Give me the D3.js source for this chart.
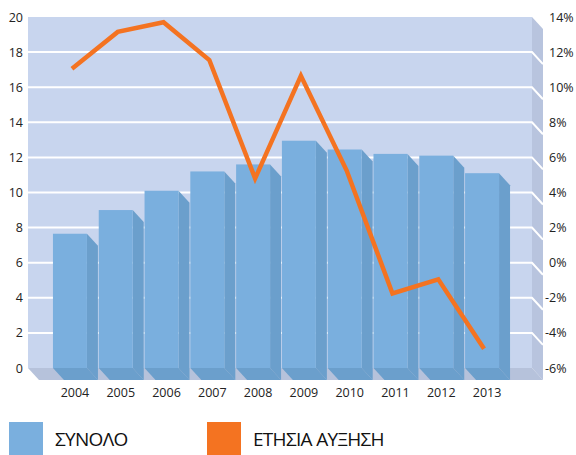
<!DOCTYPE html>
<html>
<head>
<meta charset="UTF-8" />
<title>Chart</title>
<style>
  body { margin: 0; background: #fff; }
  svg text { font-family: "Open Sans", "Noto Sans", sans-serif; fill: #222; }
  .axis path, .axis line { display: none; }
  .axis text { font-size: 12.5px; }
  .legend text { font-size: 19px; fill: #111; letter-spacing: -0.7px; }
</style>
<script src="https://d3js.org/d3.v7.min.js"></script>
</head>
<body>
<script>
var years = ["2004", "2005", "2006", "2007", "2008", "2009", "2010", "2011", "2012", "2013"];
var totals = [7.65, 9.0, 10.1, 11.2, 11.6, 12.95, 12.45, 12.2, 12.1, 11.1];
var growth = [11.05, 13.15, 13.7, 11.55, 4.8, 10.65, 5.25, -1.75, -0.95, -4.9];
var leftTicks = [0, 2, 4, 6, 8, 10, 12, 14, 16, 18, 20];
var rightTicks = [-6, -4, -2, 0, 2, 4, 6, 8, 10, 12, 14];
var legendNames = ["ΣΥΝΟΛΟ", "ΕΤΗΣΙΑ ΑΥΞΗΣΗ"];

var width = 576, height = 455;
var wallLeft = 28, wallRight = 532;
var dx = 11, dy = 12;   // depth offset of the 3d box

var svg = d3.select("body").append("svg")
    .attr("width", width)
    .attr("height", height);

var x = d3.scaleBand()
    .domain(years)
    .range([47, 505])
    .paddingInner(0.258)
    .paddingOuter(0.13);

var y = d3.scaleLinear().domain([0, 20]).range([368, 17]);
var y2 = d3.scaleLinear().domain([-6, 14]).range([368, 17]);

// back wall, side wall, floor
svg.append("rect")
    .attr("x", wallLeft).attr("y", y(20))
    .attr("width", wallRight - wallLeft).attr("height", y(0) - y(20))
    .attr("fill", "#c8d5ee");

svg.append("polygon")
    .attr("points", [[wallRight, y(20)], [wallRight + dx, y(20) + dy], [wallRight + dx, y(0) + dy], [wallRight, y(0)]].join(" "))
    .attr("fill", "#b8c4de");

svg.append("polygon")
    .attr("points", [[wallLeft, y(0)], [wallRight, y(0)], [wallRight + dx, y(0) + dy], [wallLeft + dx, y(0) + dy]].join(" "))
    .attr("fill", "#b6c2db");

// gridlines
svg.append("g").selectAll("polyline")
  .data(leftTicks.filter(function(d) { return d > 0 && d < 20; }))
  .enter().append("polyline")
    .attr("points", function(d) {
      return [[wallLeft, y(d)], [wallRight, y(d)], [wallRight + dx, y(d) + dy]].join(" ");
    })
    .attr("fill", "none")
    .attr("stroke", "#fff")
    .attr("stroke-width", 2);

// bars
var bars = svg.append("g").selectAll("g")
  .data(years)
  .enter().append("g");

bars.append("polygon")
    .attr("points", function(d, i) {
      var x0 = x(d), x1 = x(d) + x.bandwidth();
      return [[x0, y(0)], [x1, y(0)], [x1 + dx, y(0) + dy], [x0 + dx, y(0) + dy]].join(" ");
    })
    .attr("fill", "#6b9fcc");

bars.append("polygon")
    .attr("points", function(d, i) {
      var x1 = x(d) + x.bandwidth();
      return [[x1, y(totals[i])], [x1 + dx, y(totals[i]) + dy], [x1 + dx, y(0) + dy], [x1, y(0)]].join(" ");
    })
    .attr("fill", "#6b9fcc");

bars.append("rect")
    .attr("x", function(d) { return x(d); })
    .attr("y", function(d, i) { return y(totals[i]); })
    .attr("width", x.bandwidth())
    .attr("height", function(d, i) { return y(0) - y(totals[i]); })
    .attr("fill", "#7aafde");

// growth line
var line = d3.line()
    .x(function(d, i) { return x(years[i]) + x.bandwidth() / 2 + 2; })
    .y(function(d) { return y2(d); });

svg.append("path")
    .datum(growth)
    .attr("d", line)
    .attr("fill", "none")
    .attr("stroke", "#f47321")
    .attr("stroke-width", 4.5)
    .attr("stroke-linejoin", "miter");

// axes
svg.append("g")
    .attr("class", "axis")
    .attr("transform", "translate(23,0)")
    .call(d3.axisLeft(y).tickValues(leftTicks).tickSize(0).tickPadding(0));

var right = svg.append("g")
    .attr("class", "axis")
    .attr("transform", "translate(549,0)")
    .call(d3.axisRight(y2).tickValues(rightTicks).tickSize(0).tickPadding(0)
      .tickFormat(function(d) { return d + "%"; }));

right.selectAll("text")
    .attr("x", function(d) { return d < 0 ? -4 : 0; });

svg.append("g")
    .attr("class", "axis")
    .attr("transform", "translate(0,388)")
    .call(d3.axisBottom(x).tickSize(0).tickPadding(0))
  .selectAll("text")
    .attr("dx", 5);

// legend
var legendColors = ["#7aafde", "#f47321"];
var legendX = [9, 207];
var legend = svg.append("g").attr("class", "legend")
  .selectAll("g")
  .data(legendNames)
  .enter().append("g")
    .attr("transform", function(d, i) { return "translate(" + legendX[i] + ",422)"; });

legend.append("rect")
    .attr("width", 34).attr("height", 34)
    .attr("fill", function(d, i) { return legendColors[i]; });

legend.append("text")
    .attr("x", 46).attr("y", 24)
    .text(function(d) { return d; });
</script>
</body>
</html>
